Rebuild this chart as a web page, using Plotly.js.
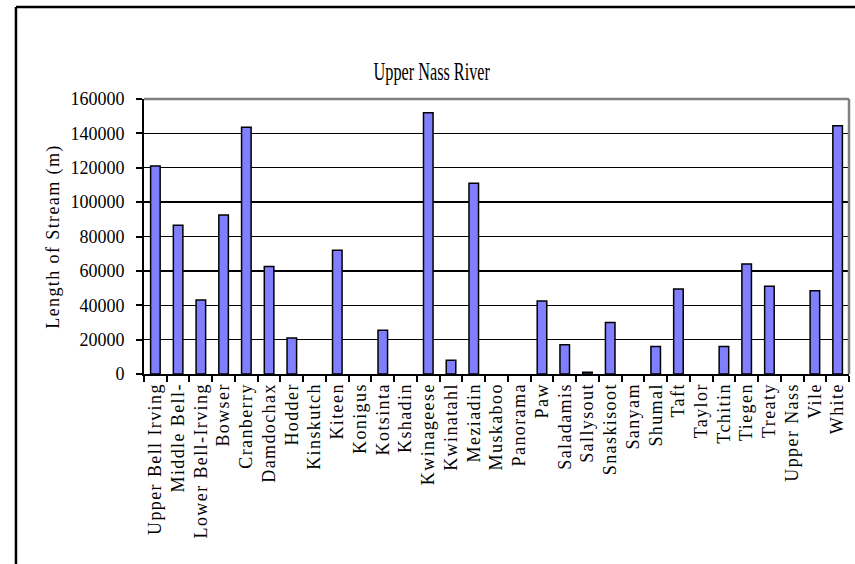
<!DOCTYPE html>
<html>
<head>
<meta charset="utf-8">
<script src="https://cdn.plot.ly/plotly-3.0.1.min.js"></script>
<style>
  html, body { margin: 0; padding: 0; background: #fff; }
  #chart { width: 855px; height: 564px; }
  .xtick text, .g-ytitle text { letter-spacing: 1.4px; }
  .gtitle { transform-box: fill-box; transform-origin: center; transform: scaleX(0.65); }
</style>
</head>
<body>
<div id="chart"></div>
<script>
const categories = [
  "Upper Bell Irving", "Middle Bell-", "Lower Bell-Irving", "Bowser", "Cranberry",
  "Damdochax", "Hodder", "Kinskutch", "Kiteen", "Konigus", "Kotsinta", "Kshadin",
  "Kwinageese", "Kwinatahl", "Meziadin", "Muskaboo", "Panorama", "Paw", "Saladamis",
  "Sallysout", "Snaskisoot", "Sanyam", "Shumal", "Taft", "Taylor", "Tchitin",
  "Tiegen", "Treaty", "Upper Nass", "Vile", "White"
];
const streamLength = [
  121000, 86500, 43000, 92500, 143500,
  62500, 21000, 0, 72000, 0, 25500, 0,
  152000, 8000, 111000, 0, 0, 42500, 17000,
  1000, 30000, 0, 16000, 49500, 0, 16000,
  64000, 51000, 0, 48500, 144500
];
const yTicks = [0, 20000, 40000, 60000, 80000, 100000, 120000, 140000, 160000];

const serif = "Liberation Serif";

const trace = {
  type: "bar",
  x: categories,
  y: streamLength,
  marker: {
    color: "#8080FF",
    line: { color: "#000000", width: streamLength.map(v => (v > 0 ? 1.5 : 0)) }
  },
  hoverinfo: "x+y"
};

const layout = {
  width: 855,
  height: 564,
  margin: { l: 144, r: 6, t: 99, b: 190, pad: 0 },
  paper_bgcolor: "#ffffff",
  plot_bgcolor: "#ffffff",
  showlegend: false,
  bargap: 0.58,
  font: { family: serif, color: "#000000", size: 18 },
  title: {
    text: "Upper Nass River",
    font: { family: serif, size: 25, color: "#000000" },
    x: 0.505, xref: "container", xanchor: "center",
    y: 0.874, yref: "container", yanchor: "middle"
  },
  xaxis: {
    type: "category",
    tickangle: -90,
    tickson: "boundaries",
    ticks: "outside",
    ticklen: 6,
    tickwidth: 2,
    tickcolor: "#000000",
    showline: true,
    linecolor: "#000000",
    linewidth: 2,
    showgrid: false,
    tickfont: { family: serif, size: 18, color: "#000000" },
    fixedrange: true
  },
  yaxis: {
    range: [0, 160000],
    tickvals: yTicks,
    ticktext: yTicks.map(String),
    ticks: "outside",
    ticklen: 6,
    tickwidth: 2,
    tickcolor: "#000000",
    ticklabelstandoff: 8,
    showline: true,
    linecolor: "#000000",
    linewidth: 2,
    showgrid: true,
    gridcolor: "#000000",
    gridwidth: 1.3,
    zeroline: false,
    tickfont: { family: serif, size: 18, color: "#000000" },
    title: {
      text: "Length of Stream (m)",
      font: { family: serif, size: 18, color: "#000000" },
      standoff: 6
    },
    fixedrange: true
  },
  shapes: [
    { type: "line", xref: "paper", yref: "paper", x0: 0, x1: 1, y0: 1, y1: 1,
      line: { color: "#808080", width: 2.5 }, layer: "above" },
    { type: "line", xref: "paper", yref: "paper", x0: 1, x1: 1, y0: 0, y1: 1,
      line: { color: "#808080", width: 2.5 }, layer: "above" },
    { type: "line", xref: "paper", yref: "paper", x0: -0.1816, x1: 1.1, y0: 1.3345, y1: 1.3345,
      line: { color: "#000000", width: 2.5 }, layer: "above" },
    { type: "line", xref: "paper", yref: "paper", x0: -0.1816, x1: -0.1816, y0: -0.8, y1: 1.3345,
      line: { color: "#000000", width: 2.5 }, layer: "above" }
  ]
};

Plotly.newPlot("chart", [trace], layout, { displayModeBar: false, staticPlot: true });
</script>
</body>
</html>
